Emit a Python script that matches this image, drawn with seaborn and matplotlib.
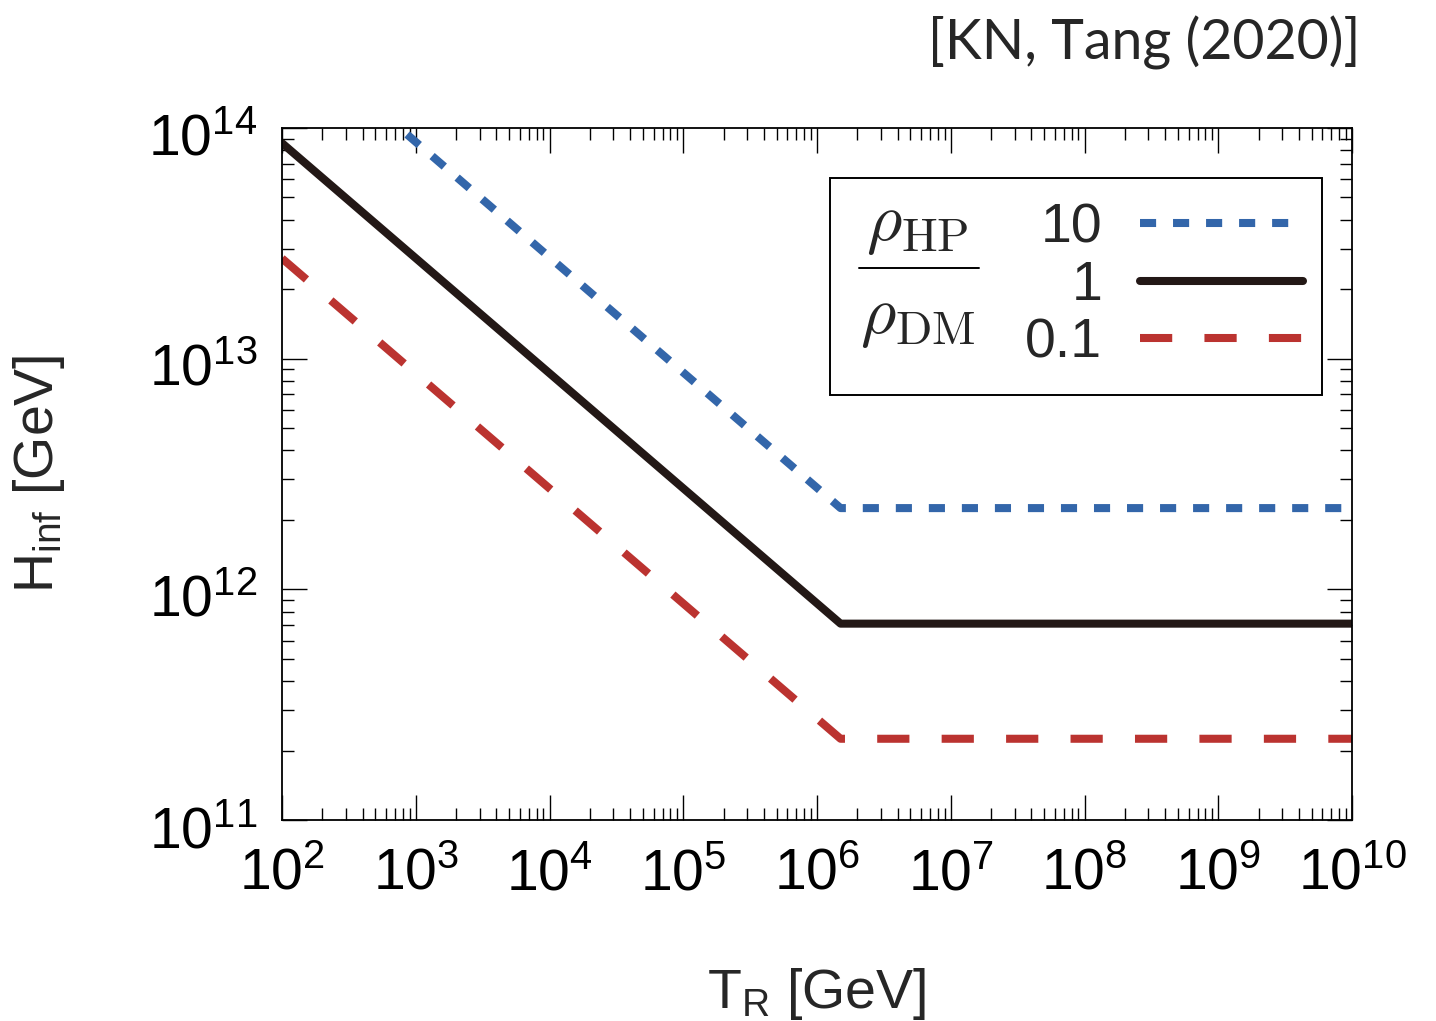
import numpy as np
import pandas as pd
import matplotlib
matplotlib.use("Agg")
import matplotlib.pyplot as plt
from matplotlib.ticker import LogLocator, FuncFormatter, NullFormatter
from matplotlib.patches import Rectangle
from matplotlib.lines import Line2D
from matplotlib.transforms import ScaledTranslation
import seaborn as sns

# Reheating temperature T_R [GeV] at the end points and at the kink
T_R = [1e2, 1.5e6, 1e10]
# Upper bound on H_inf [GeV] for each rho_HP / rho_DM ratio
H_ratio_10 = [2.75e14, 2.25e12, 2.25e12]
H_ratio_1 = [8.6e13, 7.1e11, 7.1e11]
H_ratio_01 = [2.72e13, 2.25e11, 2.25e11]
ratio_labels = ["10", "1", "0.1"]

colors = ["#3366AA", "#231816", "#BB3330"]
dash_patterns = [(2.0, 2.1), None, (4.0, 4.0)]

sns.set_theme(style="ticks")
plt.rcParams["font.family"] = ["Liberation Sans", "DejaVu Sans"]
plt.rcParams["mathtext.fontset"] = "custom"
plt.rcParams["mathtext.rm"] = "Liberation Sans"
plt.rcParams["mathtext.it"] = "Liberation Sans:italic"

fig = plt.figure(figsize=(14.36, 10.21), dpi=100)
ax = fig.add_axes([282 / 1436, 1 - 820 / 1021, 1070 / 1436, 692 / 1021])

frames = []
for lab, hv in zip(ratio_labels, [H_ratio_10, H_ratio_1, H_ratio_01]):
    frames.append(pd.DataFrame({"T_R": T_R, "H_inf": hv, "ratio": lab}))
df = pd.concat(frames, ignore_index=True)

handles = []
for lab, col, dsh in zip(ratio_labels, colors, dash_patterns):
    sub = df[df["ratio"] == lab]
    sns.lineplot(data=sub, x="T_R", y="H_inf", ax=ax, color=col, lw=5.8,
                 estimator=None, sort=False, legend=False)
    line = ax.lines[-1]
    line.set_solid_joinstyle("round")
    if dsh is not None:
        line.set_dashes(dsh)
    h = Line2D([], [], color=col, lw=5.8)
    if dsh is not None:
        h.set_dashes(dsh)
    handles.append(h)

ax.set_xscale("log")
ax.set_yscale("log")
ax.set_xlim(1e2, 1e10)
ax.set_ylim(1e11, 1e14)

fmt = FuncFormatter(lambda v, p: r"$\mathregular{10^{%d}}$" % int(round(np.log10(v))))
for axis in (ax.xaxis, ax.yaxis):
    axis.set_major_locator(LogLocator(base=10, numticks=20))
    axis.set_minor_locator(LogLocator(base=10, subs=np.arange(2, 10), numticks=20))
    axis.set_major_formatter(fmt)
    axis.set_minor_formatter(NullFormatter())

ax.tick_params(which="both", direction="in", top=True, right=True,
               color="black", labelsize=41, labelcolor="black")
ax.tick_params(which="major", length=18, width=1.0)
ax.tick_params(which="minor", length=8.5, width=1.0)
ax.tick_params(axis="x", which="major", pad=20)
ax.tick_params(axis="y", which="major", pad=18)
for s in ax.spines.values():
    s.set_linewidth(1.3)
    s.set_color("black")

# nudge the y tick labels slightly below their ticks
shift = ScaledTranslation(0, -6 / 100, fig.dpi_scale_trans)
for lbl in ax.get_yticklabels():
    lbl.set_transform(lbl.get_transform() + shift)

ax.set_xlabel(r"T$_\mathregular{R}$ [GeV]", fontsize=40, labelpad=46)
ax.set_ylabel(r"H$_\mathregular{inf}$ [GeV]", fontsize=40, labelpad=58)

# legend box with the density-ratio fraction on its left side
ax.add_patch(Rectangle((0.512, 0.614), 0.46, 0.314, transform=ax.transAxes,
                       fill=False, lw=1.4, ec="black", zorder=5))
ax.text(0.594, 0.860, r"$\rho_{\mathrm{HP}}$", transform=ax.transAxes, fontsize=49,
        math_fontfamily="cm", ha="center", va="center", zorder=6)
ax.text(0.594, 0.726, r"$\rho_{\mathrm{DM}}$", transform=ax.transAxes, fontsize=49,
        math_fontfamily="cm", ha="center", va="center", zorder=6)
ax.plot([0.5393, 0.6514], [0.7977, 0.7977], transform=ax.transAxes,
        color="black", lw=1.4, zorder=6)

leg = ax.legend(handles, ratio_labels, loc="upper right",
                bbox_to_anchor=(0.954, 0.892), frameon=False, fontsize=40,
                markerfirst=False, handlelength=2.93, handletextpad=0.68,
                labelspacing=0.1, borderpad=0, borderaxespad=0)

fig.text(1360 / 1436, 1 - 60 / 1021, "[KN, Tang (2020)]", fontsize=40,
         family=["Lato", "DejaVu Sans"], ha="right", va="baseline")

fig.savefig("out.png", dpi=100)
